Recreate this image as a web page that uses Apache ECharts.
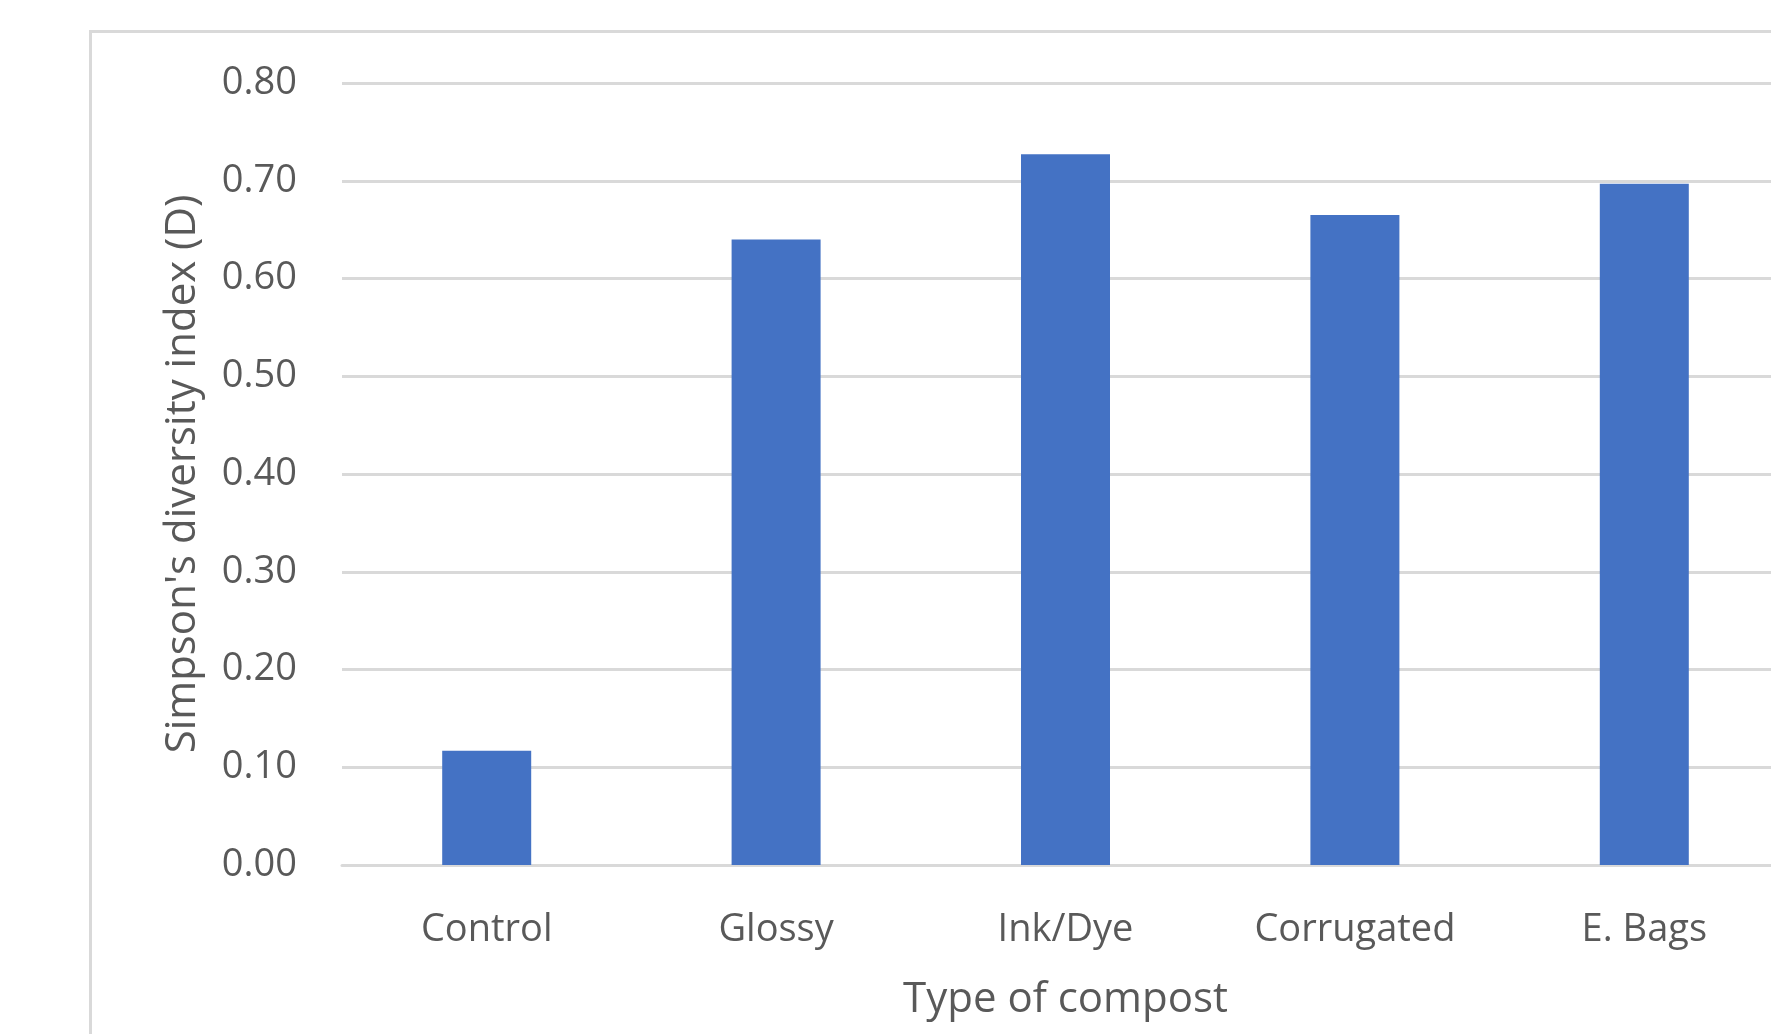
<!DOCTYPE html>
<html lang="en">
<head>
    <meta charset="UTF-8">
    <title>Simpson's diversity index by compost type</title>
    <script src="https://cdn.jsdelivr.net/npm/echarts@6/dist/echarts.min.js"></script>
    <style>
        html, body { margin: 0; padding: 0; background: #ffffff; overflow: hidden; }
        /* slightly wider than the window: the source screenshot cuts the chart off at the right */
        #main { width: 1789px; height: 1034px; }
    </style>
</head>
<body>
    <div id="main"></div>
    <script>
        // Data
        var categories = ['Control', 'Glossy', 'Ink/Dye', 'Corrugated', 'E. Bags'];
        var diversity = [0.117, 0.640, 0.727, 0.665, 0.697];
        var yTicks = { min: 0, max: 0.8, interval: 0.1 };

        var textColor = '#595959';
        var gridColor = '#d9d9d9';
        var font = '"Open Sans", "Noto Sans", sans-serif';

        var chart = echarts.init(document.getElementById('main'));

        var option = {
            animation: false,
            backgroundColor: '#ffffff',
            // chart area frame, cut off at the right and bottom like the screenshot
            graphic: [{
                type: 'rect',
                left: 88, top: 29,
                shape: { width: 2000, height: 2000 },
                style: { fill: 'none', stroke: gridColor, lineWidth: 3 },
                silent: true
            }],
            grid: { left: 342, top: 83, bottom: 169, right: 0 },
            xAxis: {
                type: 'category',
                data: categories,
                name: 'Type of compost',
                nameLocation: 'middle',
                nameGap: 114,
                nameTextStyle: { color: textColor, fontSize: 42, fontFamily: font },
                axisLine: { show: true, lineStyle: { color: gridColor, width: 3 } },
                axisTick: { show: false },
                axisLabel: {
                    color: textColor, fontSize: 38, fontFamily: font,
                    margin: 46, interval: 0
                }
            },
            yAxis: {
                type: 'value',
                min: yTicks.min,
                max: yTicks.max,
                interval: yTicks.interval,
                name: "Simpson's diversity index (D)",
                nameLocation: 'middle',
                nameGap: 138,
                nameRotate: 90,
                nameTextStyle: { color: textColor, fontSize: 42, fontFamily: font },
                axisLine: { show: false },
                axisTick: { show: false },
                splitLine: { lineStyle: { color: gridColor, width: 3 } },
                axisLabel: {
                    color: textColor, fontSize: 38, fontFamily: font, margin: 45,
                    formatter: function (v) { return v.toFixed(2); }
                }
            },
            series: [{
                type: 'bar',
                data: diversity,
                barWidth: 89,
                itemStyle: { color: '#4472c4' }
            }]
        };

        chart.setOption(option);
    </script>
</body>
</html>
